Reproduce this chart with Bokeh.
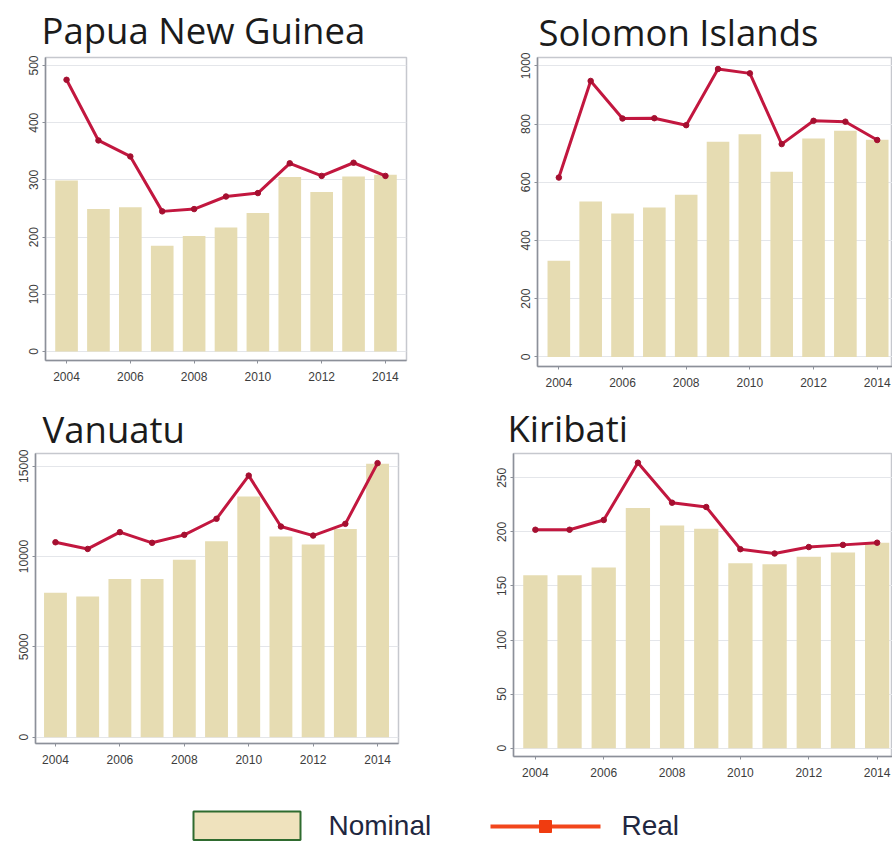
from bokeh.plotting import figure
from bokeh.layouts import column, row
from bokeh.models import Range1d
from bokeh.core.properties import value
from bokeh.embed import file_html
from bokeh.resources import INLINE

# ---------------- data ----------------
years = [2004, 2005, 2006, 2007, 2008, 2009, 2010, 2011, 2012, 2013, 2014]
year_ticks = [2004, 2006, 2008, 2010, 2012, 2014]

png_nominal = [299, 249, 252, 185, 202, 217, 242, 305, 279, 306, 309]
png_real = [475, 369, 341, 245, 249, 271, 277, 329, 307, 330, 307]
png_ticks = [0, 100, 200, 300, 400, 500]

sol_nominal = [330, 534, 493, 513, 557, 739, 765, 636, 750, 777, 746]
sol_real = [616, 948, 819, 820, 796, 989, 974, 731, 811, 808, 745]
sol_ticks = [0, 200, 400, 600, 800, 1000]

van_nominal = [7990, 7790, 8760, 8760, 9820, 10850, 13320, 11110, 10660, 11530, 15130]
van_real = [10790, 10420, 11350, 10760, 11200, 12090, 14480, 11660, 11160, 11810, 15170]
van_ticks = [0, 5000, 10000, 15000]

kir_nominal = [160, 160, 167, 222, 206, 203, 171, 170, 177, 181, 190]
kir_real = [202, 202, 211, 264, 227, 223, 184, 180, 186, 188, 190]
kir_ticks = [0, 50, 100, 150, 200, 250]

titles = ["Papua New Guinea", "Solomon Islands", "Vanuatu", "Kiribati"]
legend_labels = ["Nominal", "Real"]

# ---------------- styles ----------------
BAR = "#e6dcb2"
LINE = "#c2173f"
MARK = "#a50f30"
TICK_TXT = "#3c3c3c"
AXIS = "#8c9099"
FRAME = "#c6c8ce"
GRID = "#e4e6ea"


def panel(title, nominal, real, yticks, xr, yr, fw, fh, bl, br, bt, bb,
          t_off, t_standoff):
    p = figure(frame_width=fw, frame_height=fh,
               x_range=Range1d(*xr), y_range=Range1d(*yr),
               output_backend="svg", toolbar_location=None,
               min_border_left=bl, min_border_right=br,
               min_border_top=bt, min_border_bottom=bb,
               background_fill_color="white", border_fill_color="white")
    p.title.text = title
    p.title.align = "left"
    p.title.offset = t_off
    p.title.standoff = t_standoff
    p.title.text_font = "Open Sans"
    p.title.text_font_size = "36.5px"
    p.title.text_font_style = "normal"
    p.title.text_color = "#1b1b1b"

    p.vbar(x=years, top=nominal, bottom=0, width=0.71,
           fill_color=BAR, line_color=None)
    p.line(years, real, line_color=LINE, line_width=3)
    p.scatter(years, real, size=5.5, fill_color=MARK, line_color=MARK)

    p.outline_line_color = FRAME
    p.outline_line_width = 1.5
    p.xgrid.visible = False
    p.ygrid.ticker = yticks
    p.ygrid.grid_line_color = GRID
    p.ygrid.grid_line_width = 1

    for ax in (p.xaxis, p.yaxis):
        ax.axis_line_color = AXIS
        ax.axis_line_width = 1.5
        ax.major_tick_line_color = AXIS
        ax.minor_tick_line_color = None
        ax.major_tick_in = 0
        ax.major_tick_out = 3
        ax.major_label_text_font = "Liberation Sans"
        ax.major_label_text_font_size = "12px"
        ax.major_label_text_color = TICK_TXT
    p.xaxis.ticker = year_ticks
    p.xaxis.major_label_standoff = 8
    p.yaxis.ticker = yticks
    p.yaxis.major_label_orientation = "vertical"
    p.yaxis.major_label_standoff = 4
    return p


p1 = panel(titles[0], png_nominal, png_real, png_ticks,
           (2003.34, 2014.66), (-15.7, 514), 361, 303, 45, 54, 57, 40, -4, 5)
p2 = panel(titles[1], sol_nominal, sol_real, sol_ticks,
           (2003.33, 2014.48), (-33, 1028.5), 355, 309, 77, 0, 55, 36, 1, 1)
p3 = panel(titles[2], van_nominal, van_real, van_ticks,
           (2003.38, 2014.65), (-349, 15703), 363, 290, 35, 62, 53, 42, 7, 0)
p4 = panel(titles[3], kir_nominal, kir_real, kir_ticks,
           (2003.36, 2014.45), (-7.7, 272.5), 379, 303, 53, 0, 53, 29, -6, 1)

# legend strip
lg = figure(width=892, height=56, x_range=Range1d(0, 892), y_range=Range1d(0, 56),
            output_backend="svg", toolbar_location=None, min_border=0,
            title_location=None)
lg.axis.visible = False
lg.grid.visible = False
lg.outline_line_color = None
lg.quad(left=[193], right=[300], bottom=[1.5], top=[30],
        fill_color="#efe2bd", line_color="#2f6b2f", line_width=2)
lg.line([490, 600], [15, 15], line_color="#f2461c", line_width=4)
lg.scatter([545], [15], marker="square", size=12,
           fill_color="#f03c10", line_color="#f03c10")
lg.text([328, 621], [16, 16], text=legend_labels,
        text_font=value("Liberation Sans"), text_font_size="28px",
        text_baseline="middle", text_color="#1f2740")

layout = column(row(p1, p2), row(p3, p4), lg)

open("out.html", "w").write(file_html(layout, INLINE))
